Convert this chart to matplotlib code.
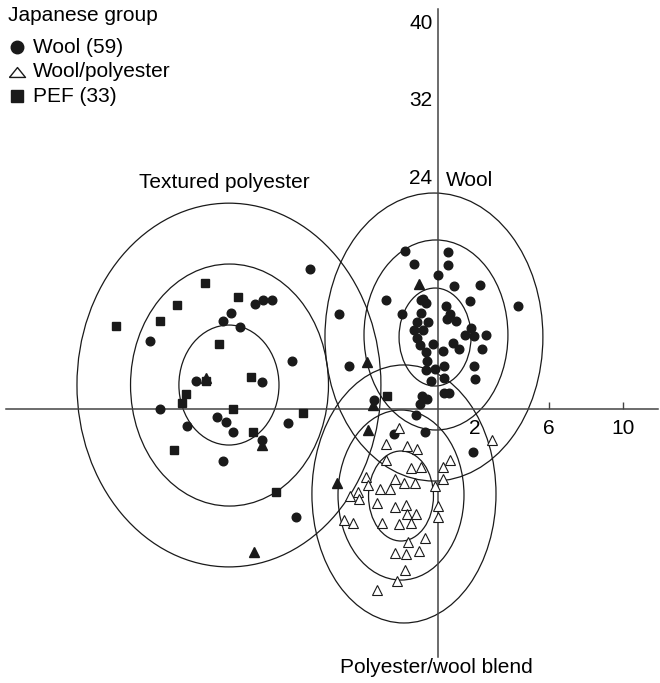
import matplotlib
matplotlib.use("Agg")
import matplotlib.pyplot as plt
from matplotlib.patches import Ellipse

plt.rcParams['font.family'] = ['Liberation Sans', 'DejaVu Sans']

# filled circles - wool
wool_x = [-6.92, -9.89, -9.46, -8.97, -11.19, -11.62, -10.70, -15.57, -7.89, -13.08,
          -9.51, -15.03, -11.95, -11.46, -13.57, -11.08, -8.11, -9.51, -11.62, -5.35,
          -7.68,
          -1.78, 0.54, -1.30, 0.54, 0.0, 0.86, 2.27, -2.81, 1.73, 4.32,
          -1.95, -0.92, -0.81, -0.65, 0.43, -0.92, 0.65, 0.49, 0.97, -1.14,
          -0.54, -1.30, -0.81, 1.78, 1.46, 1.95, 2.59, -1.14, -0.97, -0.27,
          0.81, 1.14, 2.38, -0.65, 0.27, -0.59, -4.81, -0.65, -0.16, 0.32,
          1.95, -0.38, 0.32, 2.00, 0.32, 0.59, -0.86, -0.59, -0.97, -3.46,
          -1.19, -0.70, -2.38, 1.89]
wool_y = [14.43, 10.82, 11.24, 11.24, 9.90, 9.07, 8.45, 7.01, 4.95, 2.89,
          2.78, 0.0, -0.82, -1.34, -1.75, -2.37, -1.44, -3.20, -5.36, 9.79,
          -11.13,
          16.29, 16.19, 14.95, 14.85, 13.81, 12.68, 12.78, 11.24, 11.13, 10.62,
          9.79, 11.24, 11.34, 10.93, 10.62, 9.90, 9.79, 9.28, 9.07, 8.97,
          8.97, 8.14, 8.14, 8.35, 7.63, 7.53, 7.63, 7.32, 6.60, 6.70,
          6.80, 6.19, 6.19, 5.88, 5.98, 4.95, 4.43, 4.02, 4.12, 4.43,
          4.43, 2.89, 3.20, 3.09, 1.65, 1.65, 1.34, 1.03, 0.52, 0.93,
          -0.62, -2.37, -2.58, -4.43]

# open triangles - wool/polyester
wp_x = [-2.11, -2.81, -1.68, -1.14, 2.92, 0.65, 0.27, 0.27, -2.81, -1.46,
        -0.92, -3.89, -2.32, -1.84, -1.24, -0.16, -3.78, -4.32, -4.76, -4.27,
        -3.14, -2.59, -3.30, -2.32, -1.73, 0.0, -1.68, -1.19, 0.0, -5.08,
        -4.59, -3.03, -2.11, -1.46, -0.70, -1.62, -2.32, -1.73, -1.03, -1.78,
        -2.22, -3.30]
wp_y = [-1.96, -3.61, -3.81, -4.12, -3.20, -5.26, -5.98, -7.22, -5.26, -6.08,
        -5.98, -7.01, -7.22, -7.63, -7.63, -7.94, -7.84, -8.56, -8.97, -9.28,
        -8.25, -8.25, -9.69, -10.10, -9.90, -10.0, -10.82, -10.82, -11.13, -11.44,
        -11.75, -11.75, -11.86, -11.75, -13.30, -13.71, -14.85, -14.95, -14.64, -16.60,
        -17.73, -18.66]

# filled squares - PEF
pef_x = [-17.41, -15.03, -14.11, -12.59, -10.81, -11.84, -12.54, -10.11, -13.62, -13.84,
         -11.08, -7.30, -10.0, -14.27, -8.76, -2.76]
pef_y = [8.56, 9.07, 10.72, 12.99, 11.55, 6.70, 2.89, 3.30, 1.55, 0.62,
         0.0, -0.41, -2.37, -4.23, -8.56, 1.34]

# filled triangles
tri_x = [-12.54, -9.51, -5.46, -1.03, -3.84, -3.78, -3.51, -9.95]
tri_y = [3.20, -3.71, -7.63, 12.89, 4.85, -2.16, 0.41, -14.74]

# ellipses (centre x, centre y, width, height) for inner/middle/outer
ell_tex = [(-11.30, 2.47, 5.41, 12.37), (-11.27, 2.47, 10.70, 24.95), (-11.30, 2.47, 16.43, 37.5)]
ell_wool = [(-0.16, 7.42, 3.89, 10.10), (-0.11, 7.63, 7.78, 19.59), (-0.22, 7.42, 11.78, 29.69)]
ell_blend = [(-2.0, -8.97, 3.51, 9.28), (-2.0, -8.87, 6.81, 17.53), (-1.84, -8.76, 9.95, 26.6)]

labels = ['Wool (59)', 'Wool/polyester', 'PEF (33)']

fig = plt.figure(figsize=(6.6, 6.83), dpi=100)
ax = fig.add_axes([0, 0, 1, 1])
ax.set_xlim(-438 / 18.5, 222 / 18.5)
ax.set_ylim(-274 / 9.7, 409 / 9.7)

ink = '#1a1a1a'
for grp in (ell_tex, ell_wool, ell_blend):
    for cx, cy, w, h in grp:
        ax.add_patch(Ellipse((cx, cy), w, h, fill=False, ec=ink, lw=0.9, zorder=2))

ax.plot(wool_x, wool_y, 'o', ms=6.2, color=ink, mec=ink, zorder=4)
ax.plot(pef_x, pef_y, 's', ms=5.8, color=ink, mec=ink, zorder=4)
ax.plot(tri_x, tri_y, '^', ms=7, color=ink, mec=ink, zorder=4)
ax.plot(wp_x, wp_y, '^', ms=7, mfc='white', mec=ink, mew=0.8, zorder=5)

# axes crossing at the origin
for s in ('top', 'right'):
    ax.spines[s].set_visible(False)
ax.spines['left'].set_position(('data', 0))
ax.spines['bottom'].set_position(('data', 0))
ax.spines['bottom'].set_bounds(-23.35, 11.89)
ax.spines['left'].set_bounds(-25.57, 41.24)
for s in ('left', 'bottom'):
    ax.spines[s].set_color('#444444')
    ax.spines[s].set_linewidth(1.1)
    ax.spines[s].set_zorder(3)
ax.set_xticks([2, 6, 10])
ax.set_yticks([24, 32, 40])
ax.tick_params(axis='x', direction='in', length=5, width=1, color='#444444',
               pad=7, labelsize=15)
ax.tick_params(axis='y', length=0, pad=4, labelsize=15)
ax.xaxis.get_major_ticks()[0].tick1line.set_visible(False)
ax.set_facecolor('none')

ax.text(-11.54, 23.4, 'Textured polyester', ha='center', va='center', fontsize=15)
ax.text(0.43, 23.6, 'Wool', ha='left', va='center', fontsize=15)
ax.text(-0.11, -26.7, 'Polyester/wool blend', ha='center', va='center', fontsize=15)

# legend block, top left
ax.text(0.012, 0.978, 'Japanese group', transform=ax.transAxes, ha='left', va='center', fontsize=15)
ly = [0.931, 0.895, 0.859]
ax.plot([0.026], [ly[0]], 'o', ms=9, color=ink, transform=ax.transAxes, clip_on=False)
ax.plot([0.026], [ly[1]], marker=[(-1, -0.62), (1, -0.62), (0, 0.62), (-1, -0.62)], ms=11.5,
        mfc='white', mec=ink, mew=1.0, ls='none', transform=ax.transAxes, clip_on=False)
ax.plot([0.026], [ly[2]], 's', ms=9, color=ink, transform=ax.transAxes, clip_on=False)
for yy, lab in zip(ly, labels):
    ax.text(0.05, yy, lab, transform=ax.transAxes, ha='left', va='center', fontsize=15)

fig.savefig('out.png', dpi=100)
